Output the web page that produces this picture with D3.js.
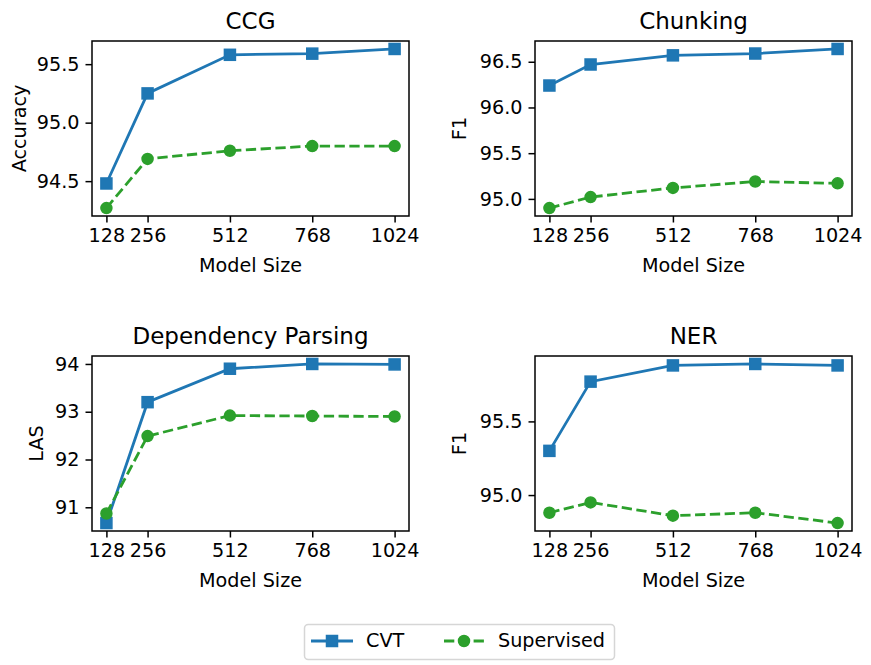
<!DOCTYPE html>
<html>
<head>
<meta charset="utf-8">
<script src="https://cdn.jsdelivr.net/npm/d3@7"></script>
<style>
  body { margin: 0; background: #fff; }
  svg { font-family: "DejaVu Sans", sans-serif; }
</style>
</head>
<body>
<div id="chart"></div>
<script>
// Model sizes on the x axis
const sizes = [128, 256, 512, 768, 1024];

// Values
const ccgCVT = [94.48, 95.25, 95.58, 95.59, 95.63];
const ccgSup = [94.27, 94.69, 94.76, 94.80, 94.80];
const chunkCVT = [96.24, 96.47, 96.57, 96.59, 96.64];
const chunkSup = [94.90, 95.02, 95.12, 95.19, 95.17];
const depCVT = [90.67, 93.20, 93.90, 94.00, 93.99];
const depSup = [90.87, 92.49, 92.92, 92.91, 92.90];
const nerCVT = [95.30, 95.77, 95.88, 95.89, 95.88];
const nerSup = [94.88, 94.95, 94.86, 94.88, 94.81];

// Tick labels
const ccgTicks = [94.5, 95.0, 95.5];
const chunkTicks = [95.0, 95.5, 96.0, 96.5];
const depTicks = [91, 92, 93, 94];
const nerTicks = [95.0, 95.5];

const width = 871;
const height = 665;
const blue = "#1f77b4";
const green = "#2ca02c";
const fs = 19.2;      // 10pt
const fsTitle = 23;   // 12pt
const lw = 2.8;
const ms = 11;
const dash = "10.3,4.5";

const panels = [
    {title: "CCG", ylabel: "Accuracy", cvt: ccgCVT, sup: ccgSup, ticks: ccgTicks, fmt: ".1f",
     x0: 92, x1: 409, y0: 41, y1: 216, labelX: 19},
    {title: "Chunking", ylabel: "F1", cvt: chunkCVT, sup: chunkSup, ticks: chunkTicks, fmt: ".1f",
     x0: 535, x1: 852, y0: 41, y1: 216, labelX: 459},
    {title: "Dependency Parsing", ylabel: "LAS", cvt: depCVT, sup: depSup, ticks: depTicks, fmt: "d",
     x0: 92, x1: 409, y0: 356, y1: 531, labelX: 36},
    {title: "NER", ylabel: "F1", cvt: nerCVT, sup: nerSup, ticks: nerTicks, fmt: ".1f",
     x0: 535, x1: 852, y0: 356, y1: 531, labelX: 459}
];

const svg = d3.select("#chart").append("svg")
    .attr("width", width)
    .attr("height", height);

// matplotlib-like 5% margins
function padded(lo, hi) {
    const m = (hi - lo) * 0.05;
    return [lo - m, hi + m];
}

function drawMarkers(g, data, x, y, shape, color) {
    if (shape === "square") {
        g.selectAll(null).data(data).join("rect")
            .attr("x", d => x(d[0]) - ms / 2)
            .attr("y", d => y(d[1]) - ms / 2)
            .attr("width", ms)
            .attr("height", ms)
            .attr("fill", color)
            .attr("stroke", color)
            .attr("stroke-width", 1.5);
    } else {
        g.selectAll(null).data(data).join("circle")
            .attr("cx", d => x(d[0]))
            .attr("cy", d => y(d[1]))
            .attr("r", ms / 2)
            .attr("fill", color)
            .attr("stroke", color)
            .attr("stroke-width", 1.5);
    }
}

function styleAxis(a) {
    a.select(".domain").remove();
    a.selectAll("text")
        .style("font-size", fs + "px")
        .style("font-family", "DejaVu Sans")
        .attr("fill", "#000");
    a.selectAll("line").attr("stroke-width", 1.5);
}

for (const p of panels) {
    const all = p.cvt.concat(p.sup);
    const x = d3.scaleLinear()
        .domain(padded(d3.min(sizes), d3.max(sizes)))
        .range([p.x0, p.x1]);
    const y = d3.scaleLinear()
        .domain(padded(d3.min(all), d3.max(all)))
        .range([p.y1, p.y0]);

    const g = svg.append("g");

    // x axis
    g.append("g")
        .attr("transform", `translate(0,${p.y1})`)
        .call(d3.axisBottom(x).tickValues(sizes).tickFormat(d3.format("d"))
            .tickSize(6.5).tickPadding(6).tickSizeOuter(0))
        .call(styleAxis);

    // y axis
    g.append("g")
        .attr("transform", `translate(${p.x0},0)`)
        .call(d3.axisLeft(y).tickValues(p.ticks).tickFormat(d3.format(p.fmt))
            .tickSize(6.5).tickPadding(6).tickSizeOuter(0))
        .call(styleAxis);

    const line = d3.line().x(d => x(d[0])).y(d => y(d[1]));
    const cvtData = d3.zip(sizes, p.cvt);
    const supData = d3.zip(sizes, p.sup);

    g.append("path").datum(cvtData)
        .attr("d", line).attr("fill", "none")
        .attr("stroke", blue).attr("stroke-width", lw);
    drawMarkers(g, cvtData, x, y, "square", blue);

    g.append("path").datum(supData)
        .attr("d", line).attr("fill", "none")
        .attr("stroke", green).attr("stroke-width", lw)
        .attr("stroke-dasharray", dash);
    drawMarkers(g, supData, x, y, "circle", green);

    // frame
    g.append("rect")
        .attr("x", p.x0).attr("y", p.y0)
        .attr("width", p.x1 - p.x0).attr("height", p.y1 - p.y0)
        .attr("fill", "none").attr("stroke", "#000").attr("stroke-width", 1.5);

    // title
    g.append("text")
        .attr("x", (p.x0 + p.x1) / 2).attr("y", p.y0 - 12.5)
        .attr("text-anchor", "middle").style("font-size", fsTitle + "px")
        .text(p.title);

    // x label
    g.append("text")
        .attr("x", (p.x0 + p.x1) / 2).attr("y", p.y1 + 56)
        .attr("text-anchor", "middle").style("font-size", fs + "px")
        .text("Model Size");

    // y label
    g.append("text")
        .attr("transform", `translate(${p.labelX},${(p.y0 + p.y1) / 2}) rotate(-90)`)
        .attr("text-anchor", "middle").attr("dy", "0.35em").style("font-size", fs + "px")
        .text(p.ylabel);
}

// Legend
const legend = svg.append("g");
legend.append("rect")
    .attr("x", 304.5).attr("y", 624.5).attr("width", 310).attr("height", 35)
    .attr("rx", 3.7)
    .attr("fill", "#fff").attr("stroke", "#d6d6d6").attr("stroke-width", 1.5);

const legendItems = [
    {name: "CVT", color: blue, shape: "square", dash: null, lx0: 311, lx1: 353, tx: 366},
    {name: "Supervised", color: green, shape: "circle", dash: dash, lx0: 444, lx1: 484, tx: 498}
];
const ly = 641;
for (const it of legendItems) {
    const ln = legend.append("line")
        .attr("x1", it.lx0).attr("x2", it.lx1).attr("y1", ly).attr("y2", ly)
        .attr("stroke", it.color).attr("stroke-width", lw);
    if (it.dash) ln.attr("stroke-dasharray", it.dash);
    const cx = (it.lx0 + it.lx1) / 2;
    if (it.shape === "square") {
        legend.append("rect")
            .attr("x", cx - ms / 2).attr("y", ly - ms / 2).attr("width", ms).attr("height", ms)
            .attr("fill", it.color).attr("stroke", it.color).attr("stroke-width", 1.5);
    } else {
        legend.append("circle")
            .attr("cx", cx).attr("cy", ly).attr("r", ms / 2)
            .attr("fill", it.color).attr("stroke", it.color).attr("stroke-width", 1.5);
    }
    legend.append("text")
        .attr("x", it.tx).attr("y", 647)
        .style("font-size", fs + "px")
        .text(it.name);
}
</script>
</body>
</html>
